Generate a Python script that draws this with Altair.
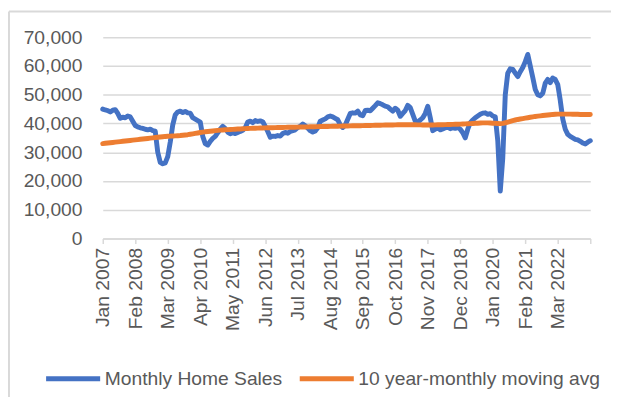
import altair as alt
import pandas as pd

START_YEAR = 2007
MONTH_NAMES = ["Jan", "Feb", "Mar", "Apr", "May", "Jun",
               "Jul", "Aug", "Sep", "Oct", "Nov", "Dec"]

monthly_sales = [
    # 2007
    45000, 44700, 44500, 44000, 44600, 44800, 43500, 41800, 42200, 42000, 42600, 42300,
    # 2008
    40800, 39300, 38800, 38500, 38300, 38000, 37800, 38000, 37500, 37300, 30000, 26500,
    # 2009
    26000, 26300, 28500, 33500, 39500, 43000, 44000, 44300, 43800, 44200, 43700, 43600,
    # 2010
    42000, 41500, 41000, 40500, 35500, 33000, 32500, 33800, 34800, 35500, 36800, 38000,
    # 2011
    39000, 38200, 37000, 36400, 36800, 36500, 36900, 37200, 37600, 38500, 40500, 40800,
    # 2012
    40300, 41000, 40700, 40900, 40600, 39000, 37200, 35200, 35600, 35500, 35800, 35600,
    # 2013
    36500, 36900, 36600, 37200, 37500, 37800, 38600, 39000, 39800, 39200, 38400, 37500,
    # 2014
    37000, 37400, 38500, 40800, 41200, 41600, 42300, 42600, 42300, 41800, 41300, 39500,
    # 2015
    38600, 39500, 41500, 43500, 43700, 43600, 44300, 43000, 42700, 44500, 44600, 44400,
    # 2016
    45300, 46200, 47200, 46900, 46500, 46000, 45800, 45000, 44300, 45300, 44600, 42500,
    # 2017
    43500, 44500, 46300, 45500, 43200, 40800, 40500, 41200, 42000, 43500, 46000, 42000,
    # 2018
    37500, 38000, 38500, 37800, 38100, 38500, 38700, 38200, 38500, 38300, 38600, 38000,
    # 2019
    36800, 35000, 38000, 40300, 41200, 42000, 42600, 43200, 43600, 43700, 43200, 43400,
    # 2020
    42600, 42300, 34000, 16500, 28000, 50000, 57500, 59000, 58800, 57500, 56300, 58000,
    # 2021
    59500, 61500, 64000, 60000, 56000, 51800, 50000, 49600, 50500, 54000, 55300, 54200,
    # 2022
    55800, 55300, 53500, 48000, 41500, 38000, 36200, 35500, 35000, 34500, 34300, 33800,
    # 2023
    33200, 32900, 33500, 34000,
]

moving_avg = [
    # 2007
    33000, 33100, 33200, 33300, 33400, 33500, 33600, 33700, 33800, 33900, 34000, 34100,
    # 2008
    34200, 34300, 34400, 34500, 34600, 34700, 34800, 34900, 35000, 35100, 35200, 35300,
    # 2009
    35400, 35500, 35550, 35600, 35650, 35700, 35750, 35800, 35900, 36000, 36100, 36250,
    # 2010
    36400, 36550, 36700, 36850, 37000, 37100, 37200, 37300, 37400, 37500, 37600, 37700,
    # 2011
    37750, 37800, 37850, 37900, 37950, 38000, 38050, 38100, 38150, 38200, 38250, 38300,
    # 2012
    38330, 38360, 38390, 38420, 38450, 38480, 38500, 38520, 38540, 38560, 38580, 38600,
    # 2013
    38620, 38640, 38660, 38680, 38700, 38720, 38740, 38760, 38780, 38800, 38820, 38840,
    # 2014
    38860, 38880, 38900, 38920, 38940, 38960, 38980, 39000, 39020, 39040, 39060, 39080,
    # 2015
    39100, 39120, 39140, 39160, 39180, 39200, 39220, 39240, 39260, 39280, 39300, 39320,
    # 2016
    39340, 39360, 39380, 39400, 39420, 39440, 39460, 39480, 39500, 39520, 39540, 39560,
    # 2017
    39560, 39560, 39560, 39550, 39540, 39530, 39520, 39510, 39500, 39500, 39500, 39500,
    # 2018
    39500, 39520, 39540, 39560, 39580, 39600, 39620, 39650, 39680, 39710, 39740, 39780,
    # 2019
    39820, 39860, 39900, 39950, 40000, 40050, 40100, 40150, 40200, 40200, 40200, 40150,
    # 2020
    40100, 40050, 40000, 39950, 40050, 40250, 40500, 40750, 41000, 41200, 41400, 41550,
    # 2021
    41700, 41850, 42000, 42150, 42300, 42450, 42550, 42650, 42750, 42850, 42950, 43050,
    # 2022
    43150, 43200, 43250, 43250, 43250, 43250, 43250, 43250, 43200, 43200, 43200, 43150,
    # 2023
    43150, 43100, 43100, 43100,
]

series_names = ["Monthly Home Sales", "10 year-monthly moving avg"]
series_colors = ["#4472C4", "#ED7D31"]

tick_step = 13
tick_labels = ["Jan 2007", "Feb 2008", "Mar 2009", "Apr 2010", "May 2011",
               "Jun 2012", "Jul 2013", "Aug 2014", "Sep 2015", "Oct 2016",
               "Nov 2017", "Dec 2018", "Jan 2020", "Feb 2021", "Mar 2022", ""]
y_ticks = [0, 10000, 20000, 30000, 40000, 50000, 60000, 70000]

n = len(monthly_sales)
months = [f"{MONTH_NAMES[i % 12]} {START_YEAR + i // 12}" for i in range(n)]

rows = []
for name, vals in zip(series_names, [monthly_sales, moving_avg]):
    for i, v in enumerate(vals):
        rows.append({"idx": i, "month": months[i], "value": v, "series": name})
df = pd.DataFrame(rows)

label_array = "[" + ",".join("'" + s + "'" for s in tick_labels) + "]"
label_expr = f"{label_array}[round(datum.value / {tick_step})]"

FONT = "Liberation Sans"
TXT = "#595959"
GRID = "#D9D9D9"

lines = alt.Chart(df).mark_line(strokeWidth=5, strokeCap="round", strokeJoin="round").encode(
    x=alt.X("idx:Q",
            scale=alt.Scale(domain=[0, n - 1], nice=False, zero=False),
            axis=alt.Axis(values=list(range(0, n, tick_step)), labelExpr=label_expr,
                          title=None, labelAngle=-90, labelFontSize=19.5, labelFont=FONT,
                          labelColor=TXT, tickColor=GRID, tickSize=5, tickWidth=1.5,
                          domainColor=GRID, domainWidth=1.5, grid=False, labelPadding=4,
                          labelOverlap=False, labelBound=False, labelFlush=False)),
    y=alt.Y("value:Q",
            scale=alt.Scale(domain=[0, 70000], nice=False),
            axis=alt.Axis(values=y_ticks, format=",d", title=None, domain=False, ticks=False,
                          grid=True, gridColor=GRID, gridWidth=1.5, labelFontSize=19.5,
                          labelFont=FONT, labelColor=TXT, labelPadding=21)),
    color=alt.Color("series:N",
                    scale=alt.Scale(domain=series_names, range=series_colors),
                    legend=alt.Legend(orient="none", legendX=-60, legendY=316,
                                      direction="horizontal", title=None,
                                      symbolType="stroke", symbolSize=3000,
                                      symbolStrokeWidth=5, labelFontSize=19.5,
                                      labelFont=FONT, labelColor=TXT, labelLimit=0,
                                      columnPadding=7, labelOffset=2)),
    detail="series:N",
    order=alt.Order("idx:Q"),
)

border = alt.Chart(alt.Data(values=[{}])).mark_rule(color=GRID, strokeWidth=2).encode(
    x=alt.value(-95), x2=alt.value(520), y=alt.value(-26))
border2 = alt.Chart(alt.Data(values=[{}])).mark_rule(color=GRID, strokeWidth=2).encode(
    x=alt.value(-95), y=alt.value(-26), y2=alt.value(370))

chart = alt.layer(border, border2, lines).properties(
    width=494, height=204,
    autosize=alt.AutoSizeParams(type="none"),
    padding={"left": 96, "top": 27, "right": 21, "bottom": 158},
).configure_view(stroke=None)

chart.save("out.html", embed_options={"renderer": "svg", "actions": False})
